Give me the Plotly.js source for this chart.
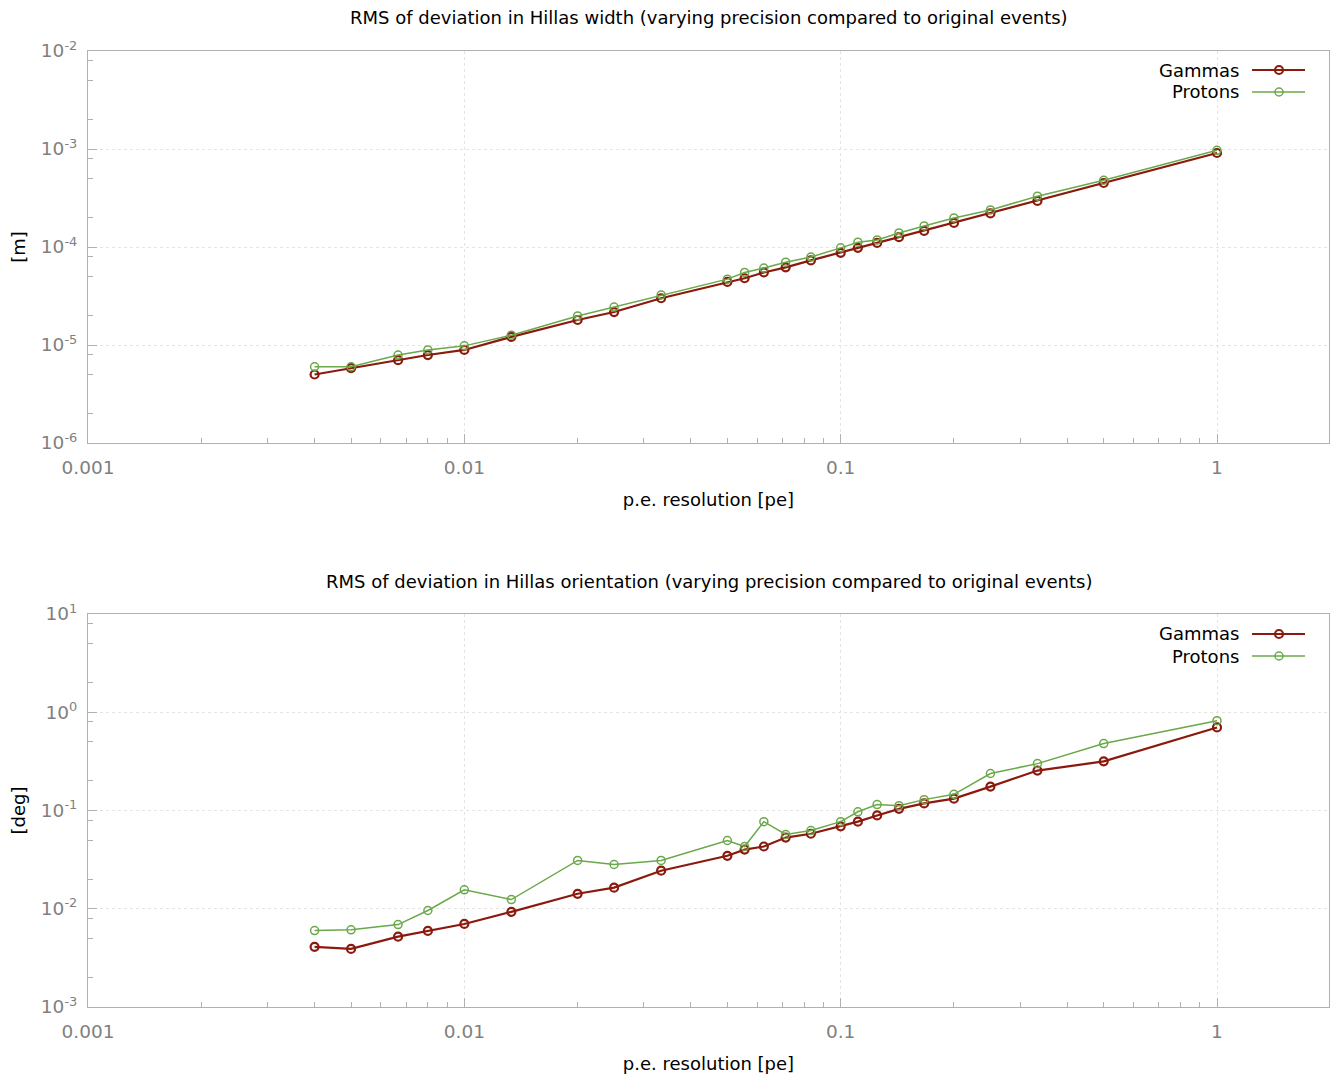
<!DOCTYPE html>
<html>
<head>
<meta charset="utf-8">
<script src="https://cdn.plot.ly/plotly-3.0.1.min.js"></script>
<style>html,body{margin:0;padding:0;background:#fff;}#chart{width:1330px;height:1079px;}</style>
</head>
<body>
<div id="chart"></div>
<script>
// p.e. resolution values (x)
const resolution = [0.004, 0.005, 1/150, 0.008, 0.01, 1/75, 0.02, 0.025, 1/30, 0.05, 1/18, 0.0625, 1/14, 1/12, 0.1, 1/9, 0.125, 1/7, 1/6, 0.2, 0.25, 1/3, 0.5, 1];

// RMS of deviation in Hillas width [m]
const widthGammas = [5.0e-6, 5.8e-6, 7.0e-6, 7.9e-6, 8.9e-6, 1.21e-5, 1.8e-5, 2.17e-5, 3.0e-5, 4.4e-5, 4.8e-5, 5.5e-5, 6.2e-5, 7.3e-5, 8.7e-5, 9.8e-5, 1.1e-4, 1.26e-4, 1.46e-4, 1.76e-4, 2.2e-4, 2.95e-4, 4.5e-4, 9.1e-4];
const widthProtons = [6.0e-6, 6.0e-6, 7.9e-6, 8.9e-6, 9.8e-6, 1.26e-5, 1.98e-5, 2.44e-5, 3.24e-5, 4.7e-5, 5.5e-5, 6.1e-5, 7.0e-5, 7.9e-5, 9.8e-5, 1.12e-4, 1.18e-4, 1.39e-4, 1.64e-4, 1.98e-4, 2.39e-4, 3.3e-4, 4.8e-4, 9.7e-4];

// RMS of deviation in Hillas orientation [deg]
const orientGammas = [4.1e-3, 3.9e-3, 5.2e-3, 5.95e-3, 7.0e-3, 9.3e-3, 1.42e-2, 1.64e-2, 2.44e-2, 3.46e-2, 4.0e-2, 4.3e-2, 5.3e-2, 5.8e-2, 6.9e-2, 7.7e-2, 8.9e-2, 0.104, 0.118, 0.132, 0.175, 0.255, 0.316, 0.70];
const orientProtons = [6.0e-3, 6.1e-3, 6.9e-3, 9.6e-3, 1.56e-2, 1.24e-2, 3.1e-2, 2.82e-2, 3.1e-2, 4.95e-2, 4.3e-2, 7.7e-2, 5.7e-2, 6.25e-2, 7.7e-2, 9.7e-2, 0.115, 0.112, 0.129, 0.146, 0.238, 0.30, 0.48, 0.82];

const seriesNames = ['Gammas', 'Protons'];
const titles = [
  'RMS of deviation in Hillas width (varying precision compared to original events)',
  'RMS of deviation in Hillas orientation (varying precision compared to original events)'
];
const xTitle = 'p.e. resolution [pe]';
const yTitles = ['[m]', '[deg]'];

// tick labels
const xTickVals = [0.001, 0.01, 0.1, 1];
const xTickText = ['0.001', '0.01', '0.1', '1'];
const yTickVals1 = [1e-6, 1e-5, 1e-4, 1e-3, 1e-2];
const yTickText1 = ['10<sup>-6</sup>', '10<sup>-5</sup>', '10<sup>-4</sup>', '10<sup>-3</sup>', '10<sup>-2</sup>'];
const yTickVals2 = [1e-3, 1e-2, 1e-1, 1, 10];
const yTickText2 = ['10<sup>-3</sup>', '10<sup>-2</sup>', '10<sup>-1</sup>', '10<sup>0</sup>', '10<sup>1</sup>'];
const yMinorVals = [2e-6,5e-6,8e-6,2e-5,5e-5,8e-5,2e-4,5e-4,8e-4,2e-3,5e-3,8e-3,2e-2,5e-2,8e-2,2e-1,5e-1,8e-1,2,5,8];

const C_G = '#8b1a0e';
const C_P = '#6aa84a';
const FONT = 'DejaVu Sans, sans-serif';

function tr(y, color, w, name, xa, ya) {
  return {
    x: resolution, y: y, type: 'scatter', mode: 'lines+markers', name: name,
    xaxis: xa, yaxis: ya, showlegend: false,
    line: {color: color, width: w},
    marker: {symbol: 'circle-open', size: 8, color: color, line: {width: w, color: color}}
  };
}

const data = [
  tr(widthGammas, C_G, 2.2, seriesNames[0], 'x', 'y'),
  tr(widthProtons, C_P, 1.5, seriesNames[1], 'x', 'y'),
  tr(orientGammas, C_G, 2.2, seriesNames[0], 'x2', 'y2'),
  tr(orientProtons, C_P, 1.5, seriesNames[1], 'x2', 'y2')
];

// pixel -> paper helpers (plot area: x 88..1329, y 51..1007)
const L = 88, R = 1329, T = 51, B = 1007;
const px = v => (v - L) / (R - L);
const py = v => (B - v) / (B - T);

function xaxisDef(anchor) {
  return {
    type: 'log', range: [-3, 0.2976], anchor: anchor,
    tickmode: 'array', tickvals: xTickVals, ticktext: xTickText,
    showline: true, linecolor: '#b0b0b0', linewidth: 1, mirror: true,
    ticks: 'inside', ticklen: 9, tickcolor: '#b0b0b0',
    showgrid: true, gridcolor: '#e4e4e4', griddash: 'dot', gridwidth: 1,
    minor: {ticks: 'inside', ticklen: 5, tickcolor: '#b0b0b0', dtick: 'D1', showgrid: false},
    tickfont: {family: FONT, size: 18.5, color: '#7f7f7f'},
    ticklabelstandoff: 8,
    title: {text: xTitle, font: {family: FONT, size: 18, color: '#000'}, standoff: 16},
    zeroline: false
  };
}
function yaxisDef(anchor, range, domain, title, vals, text) {
  return {
    type: 'log', range: range, anchor: anchor, domain: domain,
    tickmode: 'array', tickvals: vals, ticktext: text,
    showline: true, linecolor: '#b0b0b0', linewidth: 1, mirror: true,
    ticks: 'inside', ticklen: 9, tickcolor: '#b0b0b0',
    showgrid: true, gridcolor: '#e4e4e4', griddash: 'dot', gridwidth: 1,
    minor: {ticks: 'inside', ticklen: 5, tickcolor: '#b0b0b0', tickmode: 'array', tickvals: yMinorVals, showgrid: false},
    tickfont: {family: FONT, size: 18.5, color: '#7f7f7f'},
    ticklabelstandoff: 6,
    title: {text: title, font: {family: FONT, size: 18, color: '#000'}, standoff: 10},
    zeroline: false
  };
}

const shapes = [];
const annotations = [];
function legend(rowsY) {
  [[seriesNames[0], C_G, 2.2], [seriesNames[1], C_P, 1.5]].forEach((s, i) => {
    const yy = py(rowsY[i]);
    shapes.push({type: 'line', xref: 'paper', yref: 'paper', x0: px(1252), x1: px(1305), y0: yy, y1: yy, line: {color: s[1], width: s[2]}});
    shapes.push({type: 'circle', xref: 'paper', yref: 'paper', xsizemode: 'pixel', ysizemode: 'pixel',
      xanchor: px(1279), yanchor: yy, x0: -4, x1: 4, y0: -4, y1: 4, line: {color: s[1], width: s[2]}, fillcolor: 'rgba(0,0,0,0)'});
    annotations.push({xref: 'paper', yref: 'paper', x: px(1241), y: yy, xanchor: 'right', yanchor: 'middle',
      text: s[0], showarrow: false, font: {family: FONT, size: 18, color: '#000'}});
  });
}
legend([70, 92]);
legend([634, 656]);

annotations.push({xref: 'paper', yref: 'paper', x: 0.5, y: py(18), xanchor: 'center', yanchor: 'middle', text: titles[0], showarrow: false, font: {family: FONT, size: 18, color: '#000'}});
annotations.push({xref: 'paper', yref: 'paper', x: 0.5, y: py(581), xanchor: 'center', yanchor: 'middle', text: titles[1], showarrow: false, font: {family: FONT, size: 18, color: '#000'}});

const layout = {
  width: 1330, height: 1079,
  margin: {l: L, r: 1330 - R, t: T, b: 1079 - B},
  paper_bgcolor: '#fff', plot_bgcolor: '#fff',
  showlegend: false,
  xaxis: xaxisDef('y'),
  yaxis: yaxisDef('x', [-6, -2], [py(443), 1], yTitles[0], yTickVals1, yTickText1),
  xaxis2: xaxisDef('y2'),
  yaxis2: yaxisDef('x2', [-3, 1], [0, py(614)], yTitles[1], yTickVals2, yTickText2),
  shapes: shapes,
  annotations: annotations
};

Plotly.newPlot('chart', data, layout, {displayModeBar: false, staticPlot: true});
</script>
</body>
</html>
